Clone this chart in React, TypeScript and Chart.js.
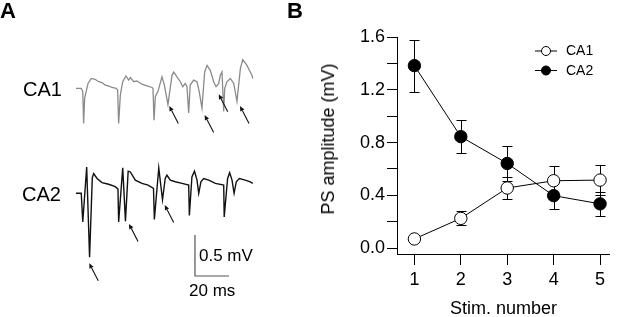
import React, { useEffect, useRef } from 'react';
import { Chart, registerables } from 'chart.js';

Chart.register(...registerables);

// ---------- Panel B data ----------
const STIM_NUMBERS = [1, 2, 3, 4, 5];
const CA1_AMPLITUDE = [0.07, 0.226, 0.456, 0.511, 0.516];
const CA1_SEM = [0.01, 0.053, 0.083, 0.108, 0.115];
const CA2_AMPLITUDE = [1.383, 0.845, 0.642, 0.398, 0.336];
const CA2_SEM = [0.196, 0.125, 0.135, 0.1, 0.09];
const Y_TICK_VALUES = [0, 0.2, 0.4, 0.6, 0.8, 1.0, 1.2, 1.4, 1.6];
const Y_LABEL_STEP = 0.4;
const SERIES_NAMES = ['CA1', 'CA2'];

// ---------- Panel A traces (time in ms, voltage in mV) ----------
const CA1_TIME_MS = [-0.6, 2.5, 3.4, 3.9, 4.5, 6.5, 8.4, 10.6, 12.8, 14.7, 16.6, 18.5, 20.6, 23.1, 23.9, 24.5, 25.5, 26.9, 28.8, 30.4, 31.4, 33.4, 35.3, 38.2, 41.2, 44.1, 44.7, 45.3, 46.1, 47.6, 50.0, 51.4, 53.5, 55.9, 56.9, 58.8, 60.8, 62.2, 63.7, 64.7, 65.7, 66.6, 68.6, 70.6, 71.9, 73.5, 75.1, 76.5, 78.4, 80.4, 81.8, 83.4, 84.3, 85.3, 86.3, 86.9, 88.2, 90.2, 92.2, 94.1, 96.1, 97.5, 100.0, 101.4, 102.9, 103.4];
const CA1_MV = [0, 0, -0.04, -0.43, -0.12, 0.06, 0.12, 0.11, 0.08, 0.07, 0.04, 0.03, 0.01, 0, -0.02, -0.43, -0.08, 0.08, 0.15, 0.10, 0.13, 0.08, 0.09, 0.05, 0.03, 0.01, 0, -0.39, -0.10, -0.04, 0.14, 0.04, -0.20, 0.16, 0.20, 0.14, 0.08, 0.02, 0.06, 0.02, -0.30, 0.04, 0.10, 0.08, -0.04, -0.24, 0.20, 0.28, 0.22, 0.08, 0.02, 0.06, 0.16, 0.20, -0.28, 0, 0.08, 0.12, 0.06, -0.16, 0.24, 0.35, 0.28, 0.22, 0.16, 0.12];
const CA2_TIME_MS = [-0.6, 2.5, 3.4, 5.7, 7.4, 9.0, 9.8, 11.8, 14.7, 18.6, 22.5, 24.1, 24.5, 26.9, 28.5, 30.1, 31.4, 34.3, 38.2, 41.8, 45.0, 45.5, 48.1, 50.3, 51.9, 52.9, 54.9, 57.8, 61.8, 65.7, 66.1, 67.6, 69.1, 70.6, 71.6, 72.9, 74.5, 77.5, 81.4, 86.3, 86.6, 88.6, 89.8, 91.2, 92.4, 93.7, 95.5, 99.0, 101.9, 103.4];
const CA2_MV = [0, 0, -0.35, 0.32, -0.78, 0.19, 0.24, 0.18, 0.13, 0.11, 0.08, 0.05, -0.35, 0.31, -0.34, 0.27, 0.26, 0.16, 0.12, 0.10, 0.06, -0.32, 0.31, -0.08, 0.18, 0.22, 0.16, 0.14, 0.12, 0.10, -0.27, 0.20, 0.27, 0.16, 0, 0.14, 0.18, 0.16, 0.12, 0.10, -0.29, 0.18, 0.25, 0.16, 0, 0.14, 0.18, 0.16, 0.14, 0.12];
const CA1_ARROW_TIP_MS = [54.3, 75.1, 83.4, 95.9];
const CA1_ARROW_TIP_MV = [-0.216, -0.326, -0.073, -0.216];
const CA2_ARROW_TIP_MS = [7.2, 30.6, 51.6];
const CA2_ARROW_TIP_MV = [-0.854, -0.374, -0.143];
const ARROW_DT_MS = 5.3;
const ARROW_DV_MV = -0.213;
const SCALE_BAR_MS = 20;
const SCALE_BAR_MV = 0.5;

// display layout for panel A (in data units)
const CA1_OFFSET_MV = -1.077;
const CA2_OFFSET_MV = -2.357;
const SCALE_BAR_ORIGIN_MS = 69.4;
const SCALE_BAR_ORIGIN_MV = -3.366;
const A_X_MIN = -45.29;
const A_X_MAX = 131.18;
const A_Y_MIN = -3.866;
const A_Y_MAX = 0;

const FONT = '"Liberation Sans", Arial, Helvetica, sans-serif';

const arrowPlugin = {
  id: 'arrows',
  afterDatasetsDraw(chart: any) {
    const { ctx, scales } = chart;
    const xs = scales.x;
    const ys = scales.y;
    const groups = [
      { t: CA1_ARROW_TIP_MS, v: CA1_ARROW_TIP_MV, off: CA1_OFFSET_MV },
      { t: CA2_ARROW_TIP_MS, v: CA2_ARROW_TIP_MV, off: CA2_OFFSET_MV },
    ];
    ctx.save();
    ctx.strokeStyle = '#111';
    ctx.fillStyle = '#111';
    ctx.lineWidth = 1.1;
    groups.forEach((g) => {
      g.t.forEach((t, i) => {
        const tipX = xs.getPixelForValue(t);
        const tipY = ys.getPixelForValue(g.v[i] + g.off);
        const tailX = xs.getPixelForValue(t + ARROW_DT_MS);
        const tailY = ys.getPixelForValue(g.v[i] + g.off + ARROW_DV_MV);
        const dx = tipX - tailX;
        const dy = tipY - tailY;
        const len = Math.hypot(dx, dy);
        const ux = dx / len;
        const uy = dy / len;
        const headLen = 5;
        const headW = 2.3;
        const bx = tipX - ux * headLen;
        const by = tipY - uy * headLen;
        ctx.beginPath();
        ctx.moveTo(tailX, tailY);
        ctx.lineTo(bx, by);
        ctx.stroke();
        ctx.beginPath();
        ctx.moveTo(tipX, tipY);
        ctx.lineTo(bx - uy * headW, by + ux * headW);
        ctx.lineTo(bx + uy * headW, by - ux * headW);
        ctx.closePath();
        ctx.fill();
      });
    });
    ctx.restore();
  },
};

const errorBarPlugin = {
  id: 'errorBars',
  beforeDatasetsDraw(chart: any) {
    const { ctx, scales } = chart;
    const xs = scales.x;
    const ys = scales.y;
    ctx.save();
    ctx.strokeStyle = '#000';
    ctx.lineWidth = 1;
    chart.data.datasets.forEach((ds: any) => {
      ds.data.forEach((p: any, i: number) => {
        const err = ds.errors[i];
        const px = Math.round(xs.getPixelForValue(p.x)) + 0.5;
        const yt = Math.round(ys.getPixelForValue(p.y + err)) + 0.5;
        const yb = Math.round(ys.getPixelForValue(p.y - err)) + 0.5;
        ctx.beginPath();
        ctx.moveTo(px, yt);
        ctx.lineTo(px, yb);
        ctx.moveTo(px - 5, yt);
        ctx.lineTo(px + 5, yt);
        ctx.moveTo(px - 5, yb);
        ctx.lineTo(px + 5, yb);
        ctx.stroke();
      });
    });
    ctx.restore();
  },
};

const legendPlugin = {
  id: 'customLegend',
  afterDraw(chart: any) {
    const { ctx } = chart;
    ctx.save();
    chart.data.datasets.forEach((ds: any, i: number) => {
      const y = 51 + i * 19.5;
      ctx.strokeStyle = '#000';
      ctx.lineWidth = 1;
      ctx.beginPath();
      ctx.moveTo(235, y);
      ctx.lineTo(257, y);
      ctx.stroke();
      ctx.beginPath();
      ctx.arc(246, y, 4.5, 0, Math.PI * 2);
      ctx.fillStyle = ds.pointBackgroundColor;
      ctx.fill();
      ctx.stroke();
      ctx.fillStyle = '#000';
      ctx.font = `14px ${FONT}`;
      ctx.textBaseline = 'middle';
      ctx.textAlign = 'left';
      ctx.fillText(ds.label, 266, y + 0.5);
    });
    ctx.restore();
  },
};

export default function App() {
  const refA = useRef<HTMLCanvasElement>(null);
  const refB = useRef<HTMLCanvasElement>(null);

  useEffect(() => {
    const chartA = new Chart(refA.current as HTMLCanvasElement, {
      type: 'line',
      data: {
        datasets: [
          {
            label: 'CA1',
            data: CA1_TIME_MS.map((t, i) => ({ x: t, y: CA1_MV[i] + CA1_OFFSET_MV })),
            borderColor: '#8a8a8a',
            borderWidth: 1.3,
            pointRadius: 0,
            tension: 0,
          },
          {
            label: 'CA2',
            data: CA2_TIME_MS.map((t, i) => ({ x: t, y: CA2_MV[i] + CA2_OFFSET_MV })),
            borderColor: '#111',
            borderWidth: 1.4,
            pointRadius: 0,
            tension: 0,
          },
          {
            label: 'scale',
            data: [
              { x: SCALE_BAR_ORIGIN_MS, y: SCALE_BAR_ORIGIN_MV + SCALE_BAR_MV },
              { x: SCALE_BAR_ORIGIN_MS, y: SCALE_BAR_ORIGIN_MV },
              { x: SCALE_BAR_ORIGIN_MS + SCALE_BAR_MS, y: SCALE_BAR_ORIGIN_MV },
            ],
            borderColor: '#555',
            borderWidth: 1.2,
            pointRadius: 0,
            tension: 0,
          },
        ],
      },
      options: {
        animation: false,
        responsive: false,
        layout: { padding: 0 },
        plugins: { legend: { display: false }, tooltip: { enabled: false } },
        scales: {
          x: { type: 'linear', display: false, min: A_X_MIN, max: A_X_MAX },
          y: { type: 'linear', display: false, min: A_Y_MIN, max: A_Y_MAX },
        },
      },
      plugins: [arrowPlugin],
    } as any);

    const chartB = new Chart(refB.current as HTMLCanvasElement, {
      type: 'line',
      data: {
        datasets: [
          {
            label: SERIES_NAMES[0],
            data: STIM_NUMBERS.map((x, i) => ({ x, y: CA1_AMPLITUDE[i] })),
            errors: CA1_SEM,
            borderColor: '#000',
            borderWidth: 1,
            pointRadius: 6.2,
            pointBorderWidth: 1,
            pointBackgroundColor: '#fff',
            pointBorderColor: '#000',
            tension: 0,
            order: 2,
          },
          {
            label: SERIES_NAMES[1],
            data: STIM_NUMBERS.map((x, i) => ({ x, y: CA2_AMPLITUDE[i] })),
            errors: CA2_SEM,
            borderColor: '#000',
            borderWidth: 1,
            pointRadius: 6.2,
            pointBorderWidth: 1,
            pointBackgroundColor: '#000',
            pointBorderColor: '#000',
            tension: 0,
            order: 1,
          },
        ],
      },
      options: {
        animation: false,
        responsive: false,
        layout: { padding: { top: 37, right: 0, left: 0, bottom: 0 } },
        plugins: { legend: { display: false }, tooltip: { enabled: false } },
        scales: {
          x: {
            type: 'linear',
            min: 0.625,
            max: 5.21,
            afterFit: (s: any) => {
              s.height = 63;
            },
            afterBuildTicks: (s: any) => {
              s.ticks = STIM_NUMBERS.map((v) => ({ value: v }));
            },
            ticks: {
              color: '#000',
              font: { family: FONT, size: 18 },
              padding: 4,
              maxRotation: 0,
              callback: (v: any) => String(v),
            },
            grid: { drawOnChartArea: false, drawTicks: true, tickLength: 11, color: '#000', lineWidth: 1 },
            border: { display: true, color: '#000', width: 1 },
            title: {
              display: true,
              text: 'Stim. number',
              color: '#000',
              font: { family: FONT, size: 18, lineHeight: 0.85 },
              padding: { top: 0, bottom: 0 },
            },
          },
          y: {
            type: 'linear',
            min: -0.044,
            max: 1.6,
            afterFit: (s: any) => {
              s.width = 97;
            },
            afterBuildTicks: (s: any) => {
              s.ticks = Y_TICK_VALUES.map((v) => ({ value: v }));
            },
            ticks: {
              color: '#000',
              font: { family: FONT, size: 18 },
              padding: 2,
              callback: (v: any) => {
                const r = v / Y_LABEL_STEP;
                return Math.abs(r - Math.round(r)) < 1e-6 ? Number(v).toFixed(1) : '';
              },
            },
            grid: { drawOnChartArea: false, drawTicks: true, tickLength: 10, color: '#000', lineWidth: 1 },
            border: { display: true, color: '#000', width: 1 },
          },
        },
      },
      plugins: [errorBarPlugin, legendPlugin],
    } as any);

    return () => {
      chartA.destroy();
      chartB.destroy();
    };
  }, []);

  const txt: React.CSSProperties = {
    position: 'absolute',
    lineHeight: 1,
    whiteSpace: 'nowrap',
    color: '#000',
    fontFamily: FONT,
  };

  return (
    <div style={{ position: 'fixed', left: 0, top: 0, width: 617, height: 317, background: '#fff', overflow: 'hidden' }}>
      <canvas ref={refA} width={300} height={317} style={{ position: 'absolute', left: 0, top: 0 }} />
      <canvas ref={refB} width={317} height={317} style={{ position: 'absolute', left: 300, top: 0 }} />
      <div style={{ ...txt, left: 0, top: -0.5, fontSize: 22, fontWeight: 'bold' }}>A</div>
      <div style={{ ...txt, left: 287, top: -0.5, fontSize: 22, fontWeight: 'bold' }}>B</div>
      <div style={{ ...txt, left: 23, top: 78.5, fontSize: 20 }}>CA1</div>
      <div style={{ ...txt, left: 22, top: 183.5, fontSize: 20 }}>CA2</div>
      <div style={{ ...txt, left: 199, top: 246.5, fontSize: 17 }}>0.5 mV</div>
      <div style={{ ...txt, left: 189, top: 281.5, fontSize: 17 }}>20 ms</div>
      <div
        style={{
          ...txt,
          left: 327.5,
          top: 139,
          fontSize: 18,
          transform: 'translate(-50%, -50%) rotate(-90deg)',
        }}
      >
        PS amplitude (mV)
      </div>
    </div>
  );
}
